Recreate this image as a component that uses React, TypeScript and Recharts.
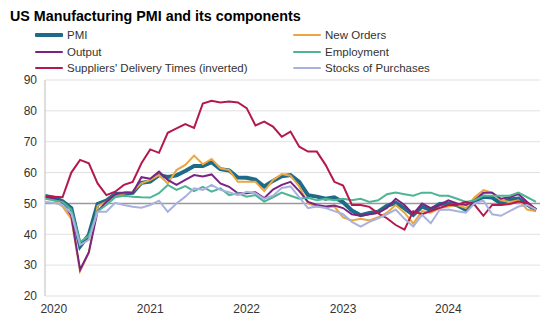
import { LineChart, Line, XAxis, YAxis, CartesianGrid, ReferenceLine } from 'recharts';

const months = [
  '2019-12',
  '2020-01', '2020-02', '2020-03', '2020-04', '2020-05', '2020-06', '2020-07', '2020-08', '2020-09', '2020-10', '2020-11', '2020-12',
  '2021-01', '2021-02', '2021-03', '2021-04', '2021-05', '2021-06', '2021-07', '2021-08', '2021-09', '2021-10', '2021-11', '2021-12',
  '2022-01', '2022-02', '2022-03', '2022-04', '2022-05', '2022-06', '2022-07', '2022-08', '2022-09', '2022-10', '2022-11', '2022-12',
  '2023-01', '2023-02', '2023-03', '2023-04', '2023-05', '2023-06', '2023-07', '2023-08', '2023-09', '2023-10', '2023-11', '2023-12',
  '2024-01', '2024-02', '2024-03', '2024-04', '2024-05', '2024-06', '2024-07', '2024-08',
];

const pmi = [
  52.4, 51.9, 50.7, 48.5, 36.1, 39.8, 49.8, 50.9, 53.1, 53.2, 53.4, 56.7, 57.1,
  59.2, 58.6, 59.1, 60.5, 62.1, 62.1, 63.4, 61.1, 60.7, 58.4, 58.3, 57.7,
  55.5, 57.3, 58.8, 59.2, 57.0, 52.7, 52.2, 51.5, 52.0, 50.4, 47.7, 46.2,
  46.9, 47.3, 49.2, 50.2, 48.4, 46.3, 49.0, 47.9, 49.8, 50.0, 49.4, 47.9,
  50.7, 52.2, 51.9, 50.0, 51.3, 51.6, 49.6, 47.9,
];
const newOrders = [
  52.0, 51.0, 49.0, 45.0, 28.0, 34.0, 49.2, 50.5, 53.0, 53.2, 53.8, 56.5, 57.6,
  59.2, 56.5, 60.8, 62.5, 65.5, 62.7, 64.4, 61.4, 60.8, 57.0, 57.0, 57.0,
  54.0, 57.5, 59.5, 59.0, 55.5, 50.0, 49.0, 48.8, 49.0, 45.5, 44.5, 45.0,
  44.5, 45.5, 47.0, 49.5, 47.0, 43.5, 47.5, 47.0, 48.5, 49.0, 49.5, 48.5,
  52.0, 54.3, 53.5, 51.0, 50.5, 51.0, 48.0, 47.5,
];
const output = [
  52.0, 51.5, 50.5, 46.0, 28.5, 34.2, 47.5, 50.5, 53.0, 53.5, 53.5, 58.5, 58.0,
  60.3, 57.6, 56.0, 57.6, 59.2, 58.7, 59.4, 56.5, 55.4, 53.3, 53.3, 53.6,
  51.7, 54.5, 56.0, 57.0, 54.0, 50.5, 49.5, 49.0, 49.3, 48.5, 46.5, 46.0,
  46.5, 47.0, 48.5, 51.5, 49.5, 46.5, 50.0, 48.5, 49.5, 51.0, 50.0, 49.5,
  51.0, 53.5, 53.5, 51.5, 52.0, 53.0, 50.5, 48.0,
];
const employment = [
  51.5, 51.0, 50.5, 48.0, 37.5, 39.5, 47.5, 49.5, 52.0, 52.5, 52.2, 52.0, 51.9,
  53.3, 56.0, 54.4, 55.6, 54.0, 55.4, 53.8, 54.9, 52.7, 53.3, 52.2, 52.7,
  50.6, 52.0, 53.5, 52.5, 51.5, 51.8, 51.0, 51.5, 51.0, 51.5, 51.0, 51.5,
  50.5, 51.0, 53.0, 53.5, 53.0, 52.5, 53.5, 53.5, 52.5, 52.5, 51.5, 50.5,
  51.0, 52.5, 52.5, 52.5, 52.5, 53.5, 52.0, 50.5,
];
const suppliers = [
  52.4, 52.2, 52.0, 60.0, 64.1, 63.0, 56.5, 52.7, 53.8, 56.0, 57.0, 63.0, 67.5,
  66.4, 72.9, 74.3, 75.7, 74.5, 82.4, 83.3, 82.7, 83.0, 82.7, 80.9, 75.3,
  76.5, 74.9, 71.6, 73.3, 68.4, 66.8, 66.8, 62.5, 57.0, 55.8, 49.5, 49.5,
  48.9, 46.8, 45.2, 43.0, 41.5, 47.5, 46.5, 47.5, 48.5, 49.5, 49.5, 50.5,
  49.5, 46.0, 49.5, 49.5, 49.8, 50.6, 50.1, 47.9,
];
const stocks = [
  50.5, 50.2, 49.5, 46.8, 36.5, 38.2, 47.3, 47.3, 50.2, 49.5, 48.9, 48.6, 49.5,
  50.9, 47.3, 50.0, 52.2, 54.9, 54.4, 56.0, 54.4, 53.6, 52.7, 53.8, 53.3,
  51.5, 52.5, 55.0, 55.5, 52.0, 48.5, 49.0, 48.5, 47.5, 46.5, 44.0, 42.5,
  44.0, 45.2, 46.5, 48.0, 45.0, 42.5, 46.3, 43.6, 47.9, 48.0, 47.5, 47.0,
  50.0, 51.0, 46.5, 46.0, 47.5, 49.0, 49.5, 48.0,
];

const yTicks = [20, 30, 40, 50, 60, 70, 80, 90];
// year labels sit where the original chart put them
const xTickMonths = ['2020-01', '2020-12', '2021-11', '2022-10', '2023-10'];
const xTickLabels = ['2020', '2021', '2022', '2023', '2024'];

const series = [
  { key: 'pmi', name: 'PMI', color: '#1d6b88', width: 4, col: 0, row: 0 },
  { key: 'newOrders', name: 'New Orders', color: '#e9a641', width: 2, col: 1, row: 0 },
  { key: 'output', name: 'Output', color: '#7a2383', width: 2, col: 0, row: 1 },
  { key: 'employment', name: 'Employment', color: '#4db592', width: 2, col: 1, row: 1 },
  { key: 'suppliers', name: "Suppliers' Delivery Times (inverted)", color: '#b3194f', width: 2, col: 0, row: 2 },
  { key: 'stocks', name: 'Stocks of Purchases', color: '#a9b2de', width: 2, col: 1, row: 2 },
];

const data = months.map((m, i) => ({
  month: m,
  pmi: pmi[i],
  newOrders: newOrders[i],
  output: output[i],
  employment: employment[i],
  suppliers: suppliers[i],
  stocks: stocks[i],
}));

const font = '"Liberation Sans", Arial, sans-serif';

export default function App() {
  return (
    <div style={{ position: 'absolute', left: 0, top: 0, width: 554, height: 326, background: '#fff', fontFamily: font }}>
      <div style={{ position: 'absolute', left: 10, top: 9, fontSize: 14.3, lineHeight: 1, fontWeight: 700, color: '#000', whiteSpace: 'nowrap' }}>
        US Manufacturing PMI and its components
      </div>
      {series.map((s) => (
        <div
          key={s.key}
          style={{
            position: 'absolute',
            left: s.col === 0 ? 35 : 293,
            top: 27 + s.row * 16.6,
            height: 16,
            display: 'flex',
            alignItems: 'center',
            fontSize: 11.5,
            color: '#333',
            whiteSpace: 'nowrap',
          }}
        >
          <span style={{ display: 'inline-block', width: 28, height: s.width, background: s.color, borderRadius: 1 }} />
          <span style={{ marginLeft: 4 }}>{s.name}</span>
        </div>
      ))}
      <LineChart width={554} height={326} data={data} margin={{ top: 80, right: 14, bottom: 10, left: 5 }}>
        <CartesianGrid vertical={false} stroke="#e1e1e1" />
        <XAxis
          dataKey="month"
          ticks={xTickMonths}
          interval={0}
          tickFormatter={(v) => xTickLabels[xTickMonths.indexOf(v)]}
          axisLine={false}
          tickLine={false}
          padding={{ left: 0, right: 4 }}
          tick={{ fill: '#333', fontSize: 12, fontFamily: font }}
          height={20}
        />
        <YAxis
          domain={[20, 90]}
          ticks={yTicks}
          interval={0}
          width={40}
          axisLine={{ stroke: '#bdbdbd' }}
          tickLine={false}
          tick={{ fill: '#333', fontSize: 12, fontFamily: font }}
        />
        <ReferenceLine y={50} stroke="#9a9a9a" strokeWidth={1.5} />
        {series.map((s) => (
          <Line
            key={s.key}
            type="linear"
            dataKey={s.key}
            name={s.name}
            stroke={s.color}
            strokeWidth={s.width}
            dot={false}
            isAnimationActive={false}
          />
        ))}
      </LineChart>
    </div>
  );
}
